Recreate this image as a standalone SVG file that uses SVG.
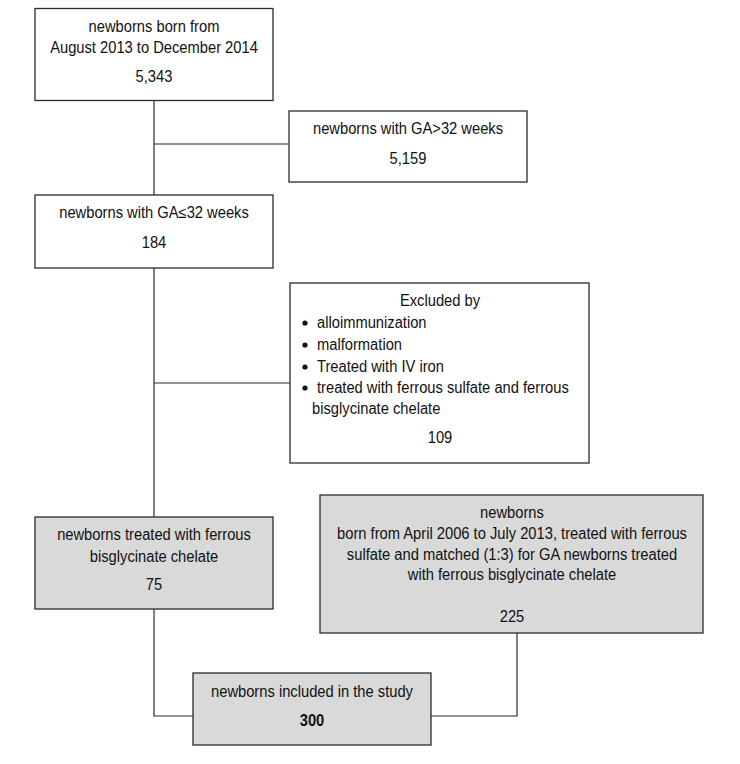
<svg xmlns="http://www.w3.org/2000/svg" width="740" height="764" viewBox="0 0 740 764">
<style>
.box{fill:#fff;stroke:#2b2b2b;stroke-width:1.3}
.gbox{fill:#d9d9d9;stroke:#2b2b2b;stroke-width:1.3}
.ln{fill:none;stroke:#2b2b2b;stroke-width:1.2}
text{font-family:"Liberation Sans",Arial,sans-serif;font-size:16px;fill:#111}
.c{text-anchor:middle}
.b{font-weight:bold}
</style>
<rect width="740" height="764" fill="#fff"/>
<g id="connectors">
<path class="ln" d="M154,100.5 V195"/>
<path class="ln" d="M154,144 H289"/>
<path class="ln" d="M154,268 V517"/>
<path class="ln" d="M154,383 H290"/>
<path class="ln" d="M154,609 V716 H193"/>
<path class="ln" d="M517,633 V716 H431"/>
</g>
<g id="n1">
<rect class="box" x="35" y="8.5" width="238" height="92"/>
<g transform="translate(154 0) scale(0.92 1)">
<text class="c" x="0" y="32">newborns born from</text>
<text class="c" x="0" y="53">August 2013 to December 2014</text>
<text class="c" x="0" y="82">5,343</text>
</g>
</g>
<g id="n2">
<rect class="box" x="289" y="111" width="238" height="71"/>
<g transform="translate(408 0) scale(0.92 1)">
<text class="c" x="0" y="134">newborns with GA&gt;32 weeks</text>
<text class="c" x="0" y="164">5,159</text>
</g>
</g>
<g id="n3">
<rect class="box" x="35" y="195" width="238" height="73"/>
<g transform="translate(154 0) scale(0.92 1)">
<text class="c" x="0" y="218">newborns with GA≤32 weeks</text>
<text class="c" x="0" y="248">184</text>
</g>
</g>
<g id="n4">
<rect class="box" x="290" y="283" width="299" height="180"/>
<circle cx="305" cy="323" r="2.6" fill="#111"/>
<circle cx="305" cy="345" r="2.6" fill="#111"/>
<circle cx="305" cy="367" r="2.6" fill="#111"/>
<circle cx="305" cy="388" r="2.6" fill="#111"/>
<g transform="translate(440 0) scale(0.92 1)">
<text class="c" x="0" y="306">Excluded by</text>
<text class="c" x="0" y="443">109</text>
</g>
<g transform="translate(317 0) scale(0.92 1)">
<text x="0" y="328">alloimmunization</text>
<text x="0" y="350">malformation</text>
<text x="0" y="372">Treated with IV iron</text>
<text x="0" y="393">treated with ferrous sulfate and ferrous</text>
<text x="-5.4" y="414">bisglycinate chelate</text>
</g>
</g>
<g id="n5">
<rect class="gbox" x="35" y="517" width="238" height="92"/>
<g transform="translate(154 0) scale(0.92 1)">
<text class="c" x="0" y="540">newborns treated with ferrous</text>
<text class="c" x="0" y="562">bisglycinate chelate</text>
<text class="c" x="0" y="590">75</text>
</g>
</g>
<g id="n6">
<rect class="gbox" x="320" y="495" width="383" height="138"/>
<g transform="translate(512 0) scale(0.92 1)">
<text class="c" x="0" y="518">newborns</text>
<text class="c" x="0" y="539">born from April 2006 to July 2013, treated with ferrous</text>
<text class="c" x="0" y="560">sulfate and matched (1:3) for GA newborns treated</text>
<text class="c" x="0" y="580">with ferrous bisglycinate chelate</text>
<text class="c" x="0" y="622">225</text>
</g>
</g>
<g id="n7">
<rect class="gbox" x="193" y="673" width="238" height="72"/>
<g transform="translate(312 0) scale(0.92 1)">
<text class="c" x="0" y="697">newborns included in the study</text>
<text class="c b" x="0" y="726">300</text>
</g>
</g>
</svg>
